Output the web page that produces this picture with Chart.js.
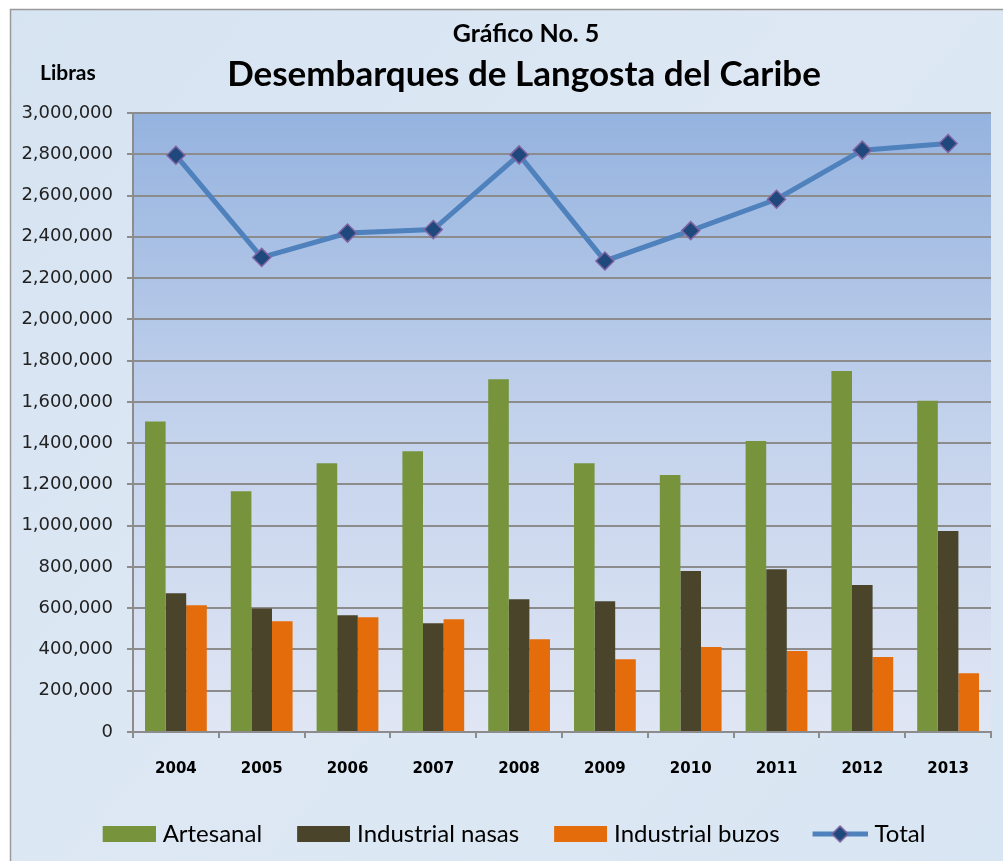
<!DOCTYPE html>
<html>
<head>
<meta charset="utf-8">
<script src="https://cdn.jsdelivr.net/npm/chart.js@4.4.1/dist/chart.umd.min.js"></script>
<style>
    html, body { margin: 0; padding: 0; background: #fff; }
    #wrap { width: 1003px; height: 861px; }
</style>
</head>
<body>
<div id="wrap"><canvas id="chart"></canvas></div>
<script>
// Data (libras)
const years = ['2004', '2005', '2006', '2007', '2008', '2009', '2010', '2011', '2012', '2013'];
const artesanal = [1505000, 1167000, 1303000, 1361000, 1710000, 1302000, 1245000, 1410000, 1750000, 1605000];
const nasas = [672000, 598000, 566000, 527000, 643000, 634000, 780000, 789000, 712000, 974000];
const buzos = [614000, 537000, 556000, 546000, 449000, 352000, 412000, 392000, 363000, 285000];
const total = [2795000, 2300000, 2418000, 2435000, 2797000, 2283000, 2430000, 2582000, 2820000, 2852000];

const seriesNames = ['Artesanal', 'Industrial nasas', 'Industrial buzos', 'Total'];
const yMax = 3000000;
const yStep = 200000;

const GREEN = '#77933c';
const OLIVE = '#4a452a';
const ORANGE = '#e46c0a';
const LINE_BLUE = '#4f81bd';
const MARK_FILL = '#1f497d';
const MARK_EDGE = '#8064a2';
const GRID = '#8c8c8c';

// legend swatches (drawn once, handed to the legend as point styles)
// the canvas is a bit wider than the legend box so the text sits closer to the swatch
const LEG_GAP = 13;
const SWATCH_W = 53;
const LEG_BOX_W = LEG_GAP + SWATCH_W;
const LEG_IMG_W = LEG_BOX_W + 10;
const makeBox = (color) => {
    const c = document.createElement('canvas');
    c.width = LEG_IMG_W; c.height = 16;
    const g = c.getContext('2d');
    g.fillStyle = color;
    g.fillRect(LEG_IMG_W - SWATCH_W, 0, SWATCH_W, 16);
    return c;
};
const makeLineSwatch = () => {
    const c = document.createElement('canvas');
    c.width = LEG_IMG_W; c.height = 20;
    const g = c.getContext('2d');
    const x0 = LEG_IMG_W - 55;
    g.strokeStyle = LINE_BLUE;
    g.lineWidth = 5;
    g.beginPath();
    g.moveTo(x0, 10); g.lineTo(LEG_IMG_W, 10);
    g.stroke();
    const cx = x0 + 27.5;
    g.beginPath();
    g.moveTo(cx, 2); g.lineTo(cx + 8, 10); g.lineTo(cx, 18); g.lineTo(cx - 8, 10);
    g.closePath();
    g.fillStyle = MARK_FILL; g.fill();
    g.strokeStyle = MARK_EDGE; g.lineWidth = 1.5; g.stroke();
    return c;
};
const legendSwatches = [makeBox(GREEN), makeBox(OLIVE), makeBox(ORANGE), makeLineSwatch()];

const fmt = (v) => v.toLocaleString('en-US');

const backdrop = {
    id: 'backdrop',
    afterLayout(chart) {
        // nudge the legend block a little to the right, like the original
        if (chart.legend) chart.legend.left += 19;
    },
    beforeDraw(chart) {
        const { ctx, chartArea: a, width, height } = chart;
        ctx.save();
        ctx.fillStyle = '#ffffff';
        ctx.fillRect(0, 0, width, height);
        const bg = ctx.createLinearGradient(0, 9, width, height);
        bg.addColorStop(0, '#d6e3f1');
        bg.addColorStop(0.5, '#dde8f4');
        bg.addColorStop(1, '#d8e5f2');
        ctx.fillStyle = bg;
        ctx.fillRect(10, 9, width - 10, height - 9);
        ctx.strokeStyle = '#9a9a9a';
        ctx.lineWidth = 1.5;
        ctx.strokeRect(10.5, 9.5, width + 10, height + 10);

        const pg = ctx.createLinearGradient(0, a.top, 0, a.bottom);
        pg.addColorStop(0, '#95b3df');
        pg.addColorStop(0.5, '#c3d2ec');
        pg.addColorStop(1, '#e0e6f4');
        ctx.fillStyle = pg;
        ctx.fillRect(a.left, a.top, a.right - a.left, a.bottom - a.top);
        ctx.restore();
    },
    afterDraw(chart) {
        const { ctx } = chart;
        ctx.save();
        ctx.fillStyle = '#000';
        ctx.textAlign = 'center';
        ctx.textBaseline = 'alphabetic';
        ctx.font = 'bold 25px Lato';
        ctx.fillText('Gráfico No. 5', 526, 42);
        ctx.font = 'bold 35px Lato';
        ctx.fillText('Desembarques de Langosta del Caribe', 524, 86);
        ctx.textAlign = 'left';
        ctx.font = 'bold 21px Lato';
        ctx.fillText('Libras', 40, 80);
        ctx.restore();
    }
};

const ctx = document.getElementById('chart').getContext('2d');
new Chart(ctx, {
    data: {
        labels: years,
        datasets: [
            {
                type: 'line',
                label: seriesNames[3],
                data: total,
                borderColor: LINE_BLUE,
                borderWidth: 5,
                tension: 0,
                pointStyle: 'rectRot',
                pointRadius: 9,
                pointBackgroundColor: MARK_FILL,
                pointBorderColor: MARK_EDGE,
                pointBorderWidth: 1.5,
                order: 0,
            },
            {
                type: 'bar',
                label: seriesNames[0],
                data: artesanal,
                backgroundColor: GREEN,
                order: 1,
            },
            {
                type: 'bar',
                label: seriesNames[1],
                data: nasas,
                backgroundColor: OLIVE,
                order: 1,
            },
            {
                type: 'bar',
                label: seriesNames[2],
                data: buzos,
                backgroundColor: ORANGE,
                order: 1,
            },
        ]
    },
    options: {
        responsive: true,
        maintainAspectRatio: false,
        animation: false,
        devicePixelRatio: 1,
        layout: { padding: { top: 113, right: 12, bottom: 5, left: 0 } },
        datasets: {
            bar: { categoryPercentage: 0.72, barPercentage: 1 }
        },
        scales: {
            x: {
                offset: true,
                grid: { offset: true, drawOnChartArea: false, color: GRID, lineWidth: 2, tickLength: 6 },
                border: { color: GRID, width: 2 },
                ticks: { color: '#000', padding: 22, font: { family: 'DejaVu Sans', size: 15, weight: 'bold' } },
                afterFit: (s) => { s.height = 73; },
            },
            y: {
                min: 0,
                max: yMax,
                grid: { color: GRID, lineWidth: 2, tickLength: 6 },
                border: { color: GRID, width: 2 },
                ticks: {
                    stepSize: yStep,
                    color: '#222',
                    padding: 14,
                    font: { family: 'DejaVu Sans', size: 18 },
                    callback: (v) => fmt(v),
                },
                afterFit: (s) => { s.width = 133; },
            }
        },
        plugins: {
            title: { display: false },
            tooltip: { enabled: false },
            legend: {
                position: 'bottom',
                labels: {
                    usePointStyle: true,
                    pointStyleWidth: LEG_BOX_W,
                    boxHeight: 18,
                    padding: 17,
                    color: '#000',
                    font: { family: 'Lato', size: 24 },
                    generateLabels: (chart) => {
                        const items = Chart.defaults.plugins.legend.labels.generateLabels(chart);
                        // legend order: bars first, then the total line
                        const order = [1, 2, 3, 0];
                        return order.map((di, k) => {
                            const it = items.find(i => i.datasetIndex === di);
                            it.pointStyle = legendSwatches[k];
                            return it;
                        });
                    }
                }
            }
        }
    },
    plugins: [backdrop]
});
</script>
</body>
</html>
